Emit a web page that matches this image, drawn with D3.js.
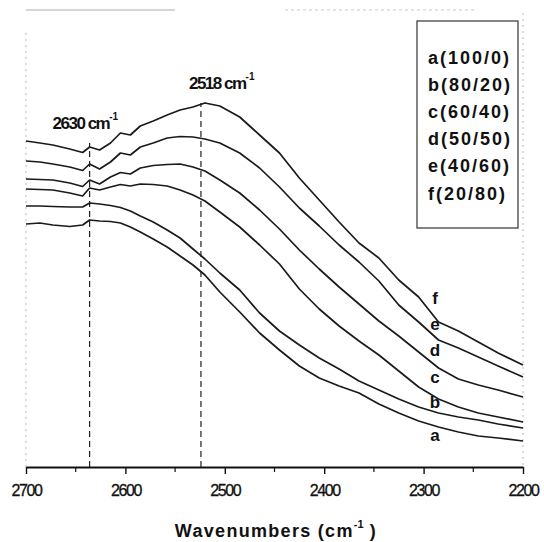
<!DOCTYPE html>
<html>
<head>
<meta charset="utf-8">
<script src="https://cdn.jsdelivr.net/npm/d3@7"></script>
<style>
    html, body { margin: 0; padding: 0; background: #fff; }
    svg { display: block; font-family: "Liberation Sans", Arial, Helvetica, sans-serif; }
</style>
</head>
<body>
<div id="chart"></div>
<script>
'use strict';

// wavenumbers (cm-1) where the spectra were read
let wavenumbers = [2700, 2686, 2673, 2656, 2643, 2636, 2626, 2615, 2605, 2595, 2585, 2572,
    2558, 2545, 2532, 2520, 2505, 2485, 2465, 2445, 2425, 2405, 2385, 2365, 2345, 2325,
    2305, 2285, 2265, 2245, 2225, 2200];

// intensities (arbitrary units, stacked spectra a..f)
let seriesA = [243, 244, 242, 240.5, 242, 247, 246, 245.5, 244, 240, 235, 228, 220, 211, 202, 192,
    175, 155, 134, 117, 101, 89, 81, 74, 63, 54, 46, 40, 35, 31, 29, 26];
let seriesB = [261, 261, 260.5, 260, 260, 264, 263, 261.5, 259.5, 256, 251, 245, 237, 229, 218, 208,
    194, 177, 154, 136, 122, 109, 98, 86, 77, 68, 60, 54, 50, 47, 43, 39];
let seriesC = [278, 277.5, 277, 274, 271, 279, 277, 280, 282.5, 281, 283, 282.5, 281, 277, 272, 266,
    255, 240, 222, 203, 178, 158, 141, 126, 112, 96, 80, 68, 60, 54, 50, 45];
let seriesD = [288, 287.5, 287, 284, 280.5, 287, 283, 290, 294.5, 293, 299, 301.5, 302.5, 303, 300, 296,
    287, 274, 257, 238, 217, 198, 180, 163, 146, 131, 115, 99, 88, 82, 77, 70];
let seriesE = [306, 305, 303, 300, 296.5, 303, 298, 305, 314, 312, 320, 324, 329, 330.5, 330, 328,
    324, 314, 299, 280, 259, 241, 222, 205, 186, 162, 145, 127, 119, 110, 101, 90];
let seriesF = [326, 324, 322, 318, 314.5, 320, 317, 324, 334, 332, 341, 346, 352, 357, 360, 364,
    361, 350, 332, 314, 289, 267, 245, 224, 209, 187, 170, 145, 136, 125, 114, 102];

let seriesNames = ['a', 'b', 'c', 'd', 'e', 'f'];
let legendLabels = ['a(100/0)', 'b(80/20)', 'c(60/40)', 'd(50/50)', 'e(40/60)', 'f(20/80)'];

let xTicks = [2700, 2600, 2500, 2400, 2300, 2200];
let xMinorTicks = [2650, 2550, 2450, 2350, 2250];

// marked bands: where the dashed line sits, how high it goes, what it says
let peakWn = [2636, 2524];
let peakTop = [324, 364];
let peakLabels = ['2630', '2518'];

let width = 544;
let height = 542;
let margin = {top: 10, right: 21, bottom: 75, left: 26};

let svg = d3.select('#chart')
    .append('svg')
    .attr('width', width)
    .attr('height', height);

let x = d3.scaleLinear()
    .domain([2700, 2200])
    .range([margin.left, width - margin.right]);

let y = d3.scaleLinear()
    .domain([0, 457])
    .range([height - margin.bottom, margin.top]);

let x0 = x.range()[0];
let x1 = x.range()[1];
let yTop = y.range()[1];
let yBottom = y.range()[0];

// faint scanned frame
svg.append('line')
    .attr('x1', x0).attr('x2', 175)
    .attr('y1', yTop).attr('y2', yTop)
    .attr('stroke', '#999')
    .attr('stroke-width', 0.8);
svg.append('line')
    .attr('x1', 285).attr('x2', 475)
    .attr('y1', yTop).attr('y2', yTop)
    .attr('stroke', '#bbb')
    .attr('stroke-width', 0.8)
    .attr('stroke-dasharray', '3,3');
svg.append('line')
    .attr('x1', x0).attr('x2', x0)
    .attr('y1', 33).attr('y2', yBottom)
    .attr('stroke', '#aaa')
    .attr('stroke-width', 0.8)
    .attr('stroke-dasharray', '2,4');
svg.append('line')
    .attr('x1', x1).attr('x2', x1)
    .attr('y1', 13).attr('y2', yBottom)
    .attr('stroke', '#aaa')
    .attr('stroke-width', 0.8)
    .attr('stroke-dasharray', '2,4');

// dashed marker lines
let peakGroup = svg.append('g').attr('class', 'peaks');
peakGroup.selectAll('line')
    .data(peakWn)
    .enter()
    .append('line')
    .attr('x1', d => x(d))
    .attr('x2', d => x(d))
    .attr('y1', y(0))
    .attr('y2', (d, i) => y(peakTop[i]))
    .attr('stroke', '#222')
    .attr('stroke-width', 1.2)
    .attr('stroke-dasharray', '6,4');

let peakDx = [-37, -12];
let peakY = [129, 89];
let peakText = peakGroup.selectAll('text')
    .data(peakLabels)
    .enter()
    .append('text')
    .attr('x', (d, i) => x(peakWn[i]) + peakDx[i])
    .attr('y', (d, i) => peakY[i])
    .attr('font-size', '17px')
    .attr('font-weight', 'bold')
    .attr('letter-spacing', '-1.5px')
    .attr('fill', '#111');
peakText.append('tspan').text(d => d + ' cm');
peakText.append('tspan')
    .attr('font-size', '10px')
    .attr('dy', -9)
    .attr('letter-spacing', '0px')
    .text('-1');

// spectra
let allSeries = [seriesA, seriesB, seriesC, seriesD, seriesE, seriesF];
let line = d3.line()
    .x((d, i) => x(wavenumbers[i]))
    .y(d => y(d))
    .curve(d3.curveLinear);

svg.append('g')
    .attr('class', 'spectra')
    .selectAll('path')
    .data(allSeries)
    .enter()
    .append('path')
    .attr('d', line)
    .attr('fill', 'none')
    .attr('stroke', '#1a1a1a')
    .attr('stroke-width', 1.7)
    .attr('stroke-linejoin', 'round');

// letters next to the spectra
let letterY = [435, 402, 377, 350, 324, 298];
svg.append('g')
    .selectAll('text')
    .data(seriesNames)
    .enter()
    .append('text')
    .attr('x', 435)
    .attr('y', (d, i) => letterY[i] + 6)
    .attr('text-anchor', 'middle')
    .attr('font-size', '17px')
    .attr('font-weight', 'bold')
    .attr('fill', '#111')
    .text(d => d);

// x axis
let xAxis = d3.axisBottom(x)
    .tickValues(xTicks)
    .tickSize(7)
    .tickSizeOuter(0)
    .tickPadding(11)
    .tickFormat(d3.format('d'));

let gXaxis = svg.append('g')
    .attr('class', 'x axis')
    .attr('transform', 'translate(0,' + yBottom + ')')
    .call(xAxis);

gXaxis.select('.domain')
    .attr('stroke', '#111')
    .attr('stroke-width', 1.8);
gXaxis.selectAll('.tick line')
    .attr('stroke', '#111')
    .attr('stroke-width', 1.4);
gXaxis.selectAll('.tick text')
    .attr('font-size', '16px')
    .attr('letter-spacing', '-1.4px')
    .attr('fill', '#111')
    .attr('stroke', '#111')
    .attr('stroke-width', 0.3)
    .attr('font-family', '"Liberation Sans", Arial, sans-serif');

gXaxis.selectAll('.minor')
    .data(xMinorTicks)
    .enter()
    .append('line')
    .attr('class', 'minor')
    .attr('x1', d => x(d))
    .attr('x2', d => x(d))
    .attr('y1', 0)
    .attr('y2', 5)
    .attr('stroke', '#111')
    .attr('stroke-width', 1.2);

// axis title
let title = svg.append('text')
    .attr('x', 276)
    .attr('y', 537)
    .attr('text-anchor', 'middle')
    .attr('font-size', '18px')
    .attr('font-weight', 'bold')
    .attr('letter-spacing', '1.3px')
    .attr('fill', '#111');
title.append('tspan').text('Wavenumbers (cm');
title.append('tspan')
    .attr('font-size', '11px')
    .attr('dy', -9)
    .attr('letter-spacing', '0px')
    .text('-1');
title.append('tspan')
    .attr('dy', 9)
    .text(' )');

// legend box
let legend = svg.append('g').attr('class', 'legend');
legend.append('rect')
    .attr('x', 417)
    .attr('y', 21)
    .attr('width', 101)
    .attr('height', 207)
    .attr('fill', 'none')
    .attr('stroke', '#333')
    .attr('stroke-width', 1.2);

legend.selectAll('text')
    .data(legendLabels)
    .enter()
    .append('text')
    .attr('x', 428)
    .attr('y', (d, i) => 63.5 + i * 27.2)
    .attr('font-size', '18px')
    .attr('font-weight', 'bold')
    .attr('letter-spacing', '2px')
    .attr('fill', '#111')
    .text(d => d);
</script>
</body>
</html>
